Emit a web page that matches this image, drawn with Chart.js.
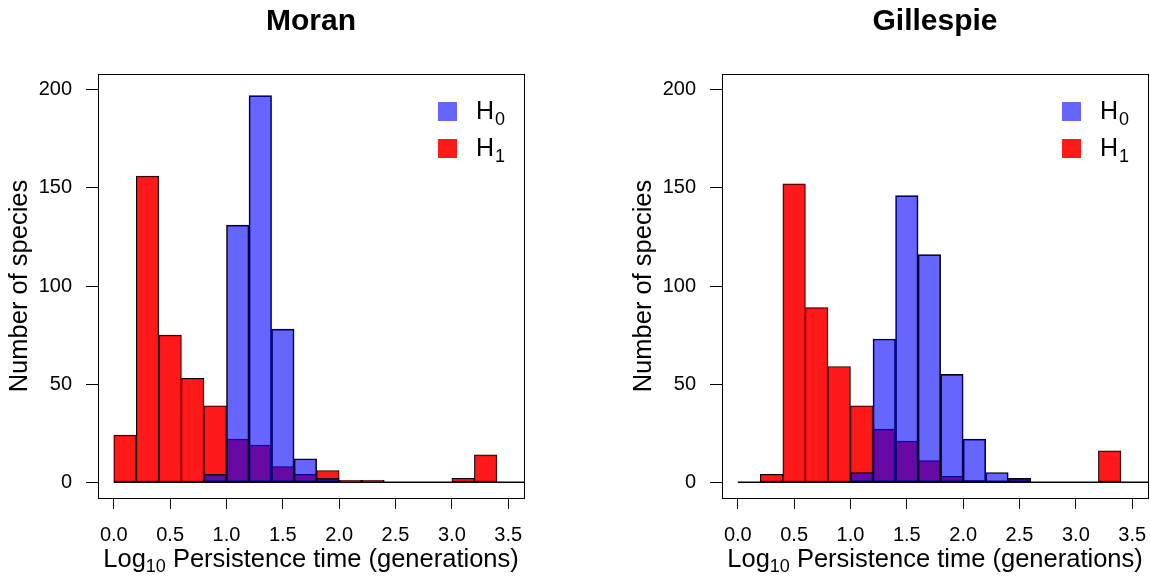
<!DOCTYPE html>
<html>
<head>
<meta charset="utf-8">
<script src="https://cdn.jsdelivr.net/npm/chart.js@4.4.1/dist/chart.umd.min.js"></script>
<style>
  html, body { margin: 0; padding: 0; background: #fff; overflow: hidden; }
  body { width: 1150px; height: 581px; position: relative; }
  .panel { position: absolute; top: 0; width: 622px; height: 581px; }
</style>
</head>
<body>
<div class="panel" style="left:0"><canvas id="moranChart"></canvas></div>
<div class="panel" style="left:624px"><canvas id="gillespieChart"></canvas></div>
<script>
// histogram bins (log10 persistence time), width 0.2
const binStarts = [0.0, 0.2, 0.4, 0.6, 0.8, 1.0, 1.2, 1.4, 1.6, 1.8, 2.0, 2.2, 2.4, 2.6, 2.8, 3.0, 3.2];
const binWidth = 0.2;

const moranH0 = [0, 0, 0, 0, 4, 131, 197, 78, 12, 2, 0, 0, 0, 0, 0, 0, 0];
const moranH1 = [24, 156, 75, 53, 39, 22, 19, 8, 4, 6, 1, 1, 0, 0, 0, 2, 14];
const gillespieH0 = [0, 0, 0, 0, 0, 5, 73, 146, 116, 55, 22, 5, 2, 0, 0, 0, 0];
const gillespieH1 = [0, 4, 152, 89, 59, 39, 27, 21, 11, 3, 1, 0, 2, 0, 0, 0, 16];

const xTicks = [0, 0.5, 1.0, 1.5, 2.0, 2.5, 3.0, 3.5];
const yTicks = [0, 50, 100, 150, 200];
const legendBase = ["H", "H"];
const legendSub = ["0", "1"];
// x title as [text, subscript?] pieces
const xTitleParts = [["Log", false], ["10", true], [" Persistence time (generations)", false]];

const FONT = "'Liberation Sans', Arial, Helvetica, sans-serif";
Chart.defaults.font.family = FONT;
Chart.defaults.color = "#000";

function toBars(counts) {
    return counts.map((c, i) => ({ x: binStarts[i] + binWidth / 2, y: c }));
}

// zero line under the histogram (R draws empty bins as flat lines)
const baselinePlugin = {
    id: "baseline",
    afterDatasetsDraw(chart) {
        const { ctx, chartArea, scales } = chart;
        const y = scales.y.getPixelForValue(0);
        ctx.save();
        ctx.strokeStyle = "#000";
        ctx.lineWidth = 1.5;
        ctx.beginPath();
        ctx.moveTo(scales.x.getPixelForValue(binStarts[0]), y);
        ctx.lineTo(chartArea.right, y);
        ctx.stroke();
        ctx.restore();
    },
};

const boxPlugin = {
    id: "box",
    afterDraw(chart) {
        const { ctx, chartArea: a } = chart;
        ctx.save();
        ctx.strokeStyle = "#000";
        ctx.lineWidth = 1;
        ctx.strokeRect(Math.round(a.left) + 0.5, Math.round(a.top) + 0.5,
            Math.round(a.width), Math.round(a.height));
        ctx.restore();
    },
};

const legendPlugin = {
    id: "subLegend",
    afterDraw(chart) {
        const { ctx, chartArea: a } = chart;
        ctx.save();
        chart.data.datasets.forEach((ds, i) => {
            const x = a.right - 86;
            const y = a.top + 28 + i * 37;
            ctx.fillStyle = ds.backgroundColor;
            ctx.fillRect(x, y, 19, 19);
            ctx.fillStyle = "#000";
            ctx.textBaseline = "alphabetic";
            ctx.font = "25px " + FONT;
            ctx.fillText(legendBase[i], x + 38, y + 17);
            const w = ctx.measureText(legendBase[i]).width;
            ctx.font = "18px " + FONT;
            ctx.fillText(legendSub[i], x + 38 + w + 1, y + 23);
        });
        ctx.restore();
    },
};

// x axis title with a real subscript
const xTitlePlugin = {
    id: "xTitle",
    afterDraw(chart) {
        const { ctx, chartArea: a } = chart;
        const fontFor = (sub) => (sub ? "18px " : "25.5px ") + FONT;
        let total = 0;
        xTitleParts.forEach(([t, sub]) => { ctx.font = fontFor(sub); total += ctx.measureText(t).width; });
        let x = (a.left + a.right) / 2 - total / 2;
        const base = chart.height - 14;
        ctx.save();
        ctx.fillStyle = "#000";
        ctx.textBaseline = "alphabetic";
        ctx.textAlign = "left";
        xTitleParts.forEach(([t, sub]) => {
            ctx.font = fontFor(sub);
            ctx.fillText(t, x, sub ? base + 5 : base);
            x += ctx.measureText(t).width;
        });
        ctx.restore();
    },
};

function makeChart(id, title, h0, h1) {
    const ctx = document.getElementById(id).getContext("2d");
    return new Chart(ctx, {
        type: "bar",
        data: {
            datasets: [
                {
                    label: "H₀",
                    data: toBars(h0),
                    backgroundColor: "rgba(0, 0, 255, 0.6)",
                },
                {
                    label: "H₁",
                    data: toBars(h1),
                    backgroundColor: "rgba(255, 0, 0, 0.9)",
                },
            ],
        },
        options: {
            responsive: true,
            maintainAspectRatio: false,
            animation: false,
            layout: { padding: 0 },
            datasets: {
                bar: {
                    grouped: false,
                    barPercentage: 1,
                    categoryPercentage: 1,
                    borderWidth: 1,
                    borderColor: "#000",
                    borderSkipped: false,
                    yAxisID: "y",
                },
            },
            plugins: {
                legend: { display: false },
                tooltip: { enabled: false },
                title: {
                    display: true,
                    text: title,
                    font: { size: 30, weight: "bold" },
                    color: "#000",
                    padding: { top: 4, bottom: 34 },
                },
            },
            scales: {
                x: {
                    type: "linear",
                    min: -0.14,
                    max: 3.64,
                    offset: false,
                    afterBuildTicks: (axis) => { axis.ticks = xTicks.map((v) => ({ value: v })); },
                    afterFit: (axis) => { axis.height = 83; },
                    ticks: {
                        font: { size: 20 },
                        padding: 14,
                        maxRotation: 0,
                        autoSkip: false,
                        callback: (v) => Number(v).toFixed(1),
                    },
                    grid: { offset: false, drawOnChartArea: false, drawTicks: true, tickLength: 11, color: "#000" },
                    border: { display: false },
                    title: { display: false },
                },
                y: {
                    position: "left",
                    min: -8,
                    max: 208,
                    afterBuildTicks: (axis) => { axis.ticks = yTicks.map((v) => ({ value: v })); },
                    afterFit: (axis) => { axis.width = 98; },
                    ticks: { font: { size: 20 }, padding: 14 },
                    grid: { drawOnChartArea: false, drawTicks: true, tickLength: 12, color: "#000" },
                    border: { display: false },
                    title: {
                        display: true,
                        text: "Number of species",
                        font: { size: 25.5 },
                        padding: { top: 5, bottom: 0 },
                    },
                },
                yRight: {
                    position: "right",
                    display: true,
                    grid: { display: false },
                    ticks: { display: false },
                    border: { display: false },
                    afterFit: (axis) => { axis.width = 98; },
                },
            },
        },
        plugins: [baselinePlugin, boxPlugin, legendPlugin, xTitlePlugin],
    });
}

makeChart("moranChart", "Moran", moranH0, moranH1);
makeChart("gillespieChart", "Gillespie", gillespieH0, gillespieH1);
</script>
</body>
</html>
